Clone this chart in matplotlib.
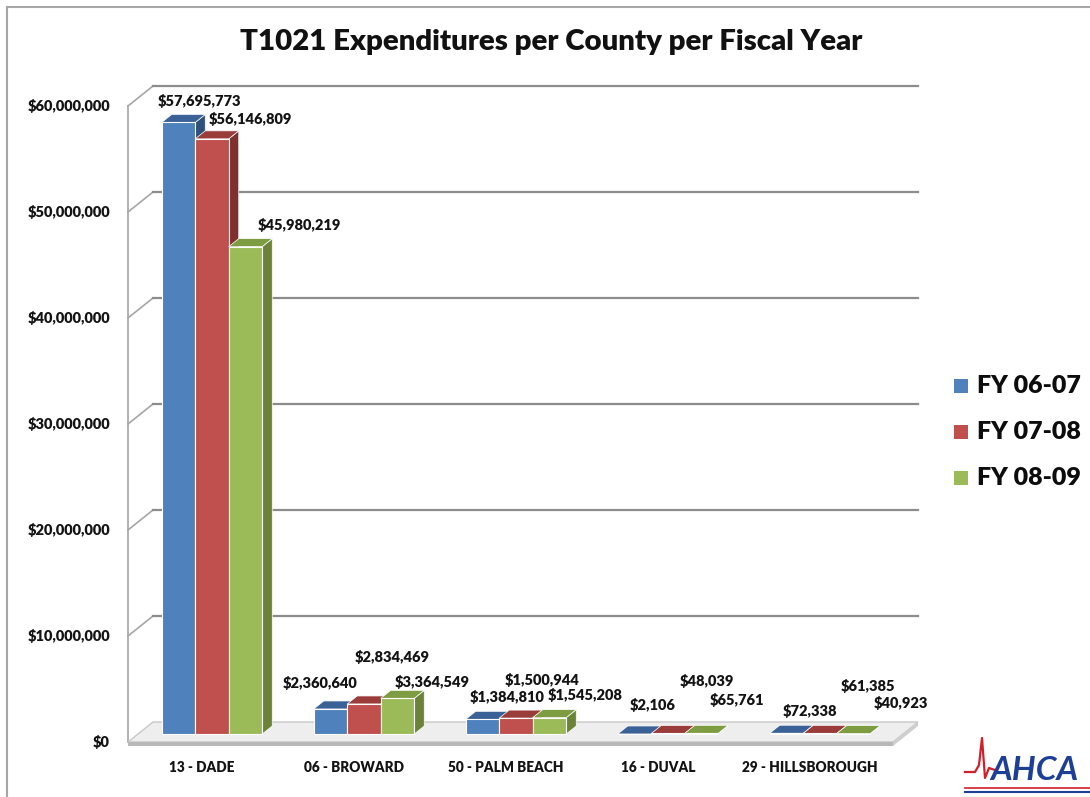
import matplotlib

matplotlib.use("Agg")
import matplotlib.pyplot as plt
from matplotlib.patches import Polygon, Rectangle
from matplotlib.lines import Line2D

plt.rcParams["font.family"] = ["Lato", "DejaVu Sans"]

counties = ["13 - DADE", "06 - BROWARD", "50 - PALM BEACH", "16 - DUVAL", "29 - HILLSBOROUGH"]
series_names = ["FY 06-07", "FY 07-08", "FY 08-09"]
fy0607 = [57695773, 2360640, 1384810, 2106, 72338]
fy0708 = [56146809, 2834469, 1500944, 48039, 61385]
fy0809 = [45980219, 3364549, 1545208, 65761, 40923]
yticks = [0, 10e6, 20e6, 30e6, 40e6, 50e6, 60e6]

front = ["#4F81BD", "#C0504D", "#9BBB59"]
side = ["#2F5079", "#7E302E", "#6A8337"]
top = ["#3A6296", "#9A3C39", "#7E9D43"]

# label offsets (pixels) from the top of each bar front face, as Excel placed them
label_dx = [[21, -10, 25, 18, 23], [38, 28, 26, 39, 48], [54, 35, 36, 35, 47]]
label_dy = [[21, 26, 22, 29, 22], [20, 47, 38, 52, 47], [22, 16, 23, 33, 31]]

W, H = 1090, 797
PX = 1 / 152.0          # category units per pixel
PY = 1e6 / 10.6         # dollars per pixel
TXT = "#141414"

fig = plt.figure(figsize=(W / 100, H / 100), dpi=100)
ax = fig.add_axes([0, 0, 1, 1])
ax.set_xlim(-202 * PX, (W - 202) * PX)
ax.set_ylim(-55 * PY, 742 * PY)
ax.axis("off")

# outer frame
fig.add_artist(Line2D([7 / W, 7 / W], [0, 1 - 7 / H], color="#a6a6a6", lw=1.5))
fig.add_artist(Line2D([7 / W, 1], [1 - 7 / H, 1 - 7 / H], color="#a6a6a6", lw=1.5))

x0, x1 = -74 * PX, 691 * PX
wdx, wdy = 25 * PX, 20 * PY

# walls and gridlines
ax.plot([x0, x0], [0, yticks[-1]], color="#a6a6a6", lw=1.2, zorder=1)
for v in yticks[1:]:
    ax.plot([x0, x0 + wdx], [v, v + wdy], color="#a6a6a6", lw=1.2, zorder=1)
    ax.plot([x0 + wdx, x1 + wdx], [v + wdy, v + wdy], color="#8c8c8c", lw=1.6, zorder=1)
    ax.text(x0 - 18 * PX, v, f"${v:,.0f}", ha="right", va="center",
            fontsize=10.5, fontweight="heavy", color=TXT)
ax.text(x0 - 18 * PX, 0, "$0", ha="right", va="center",
        fontsize=10.5, fontweight="heavy", color=TXT)

# floor slab
ax.add_patch(Polygon([(x0, 0), (x1, 0), (x1 + wdx, wdy), (x0 + wdx, wdy)],
                     closed=True, facecolor="#eeeeee", edgecolor="#c8c8c8", lw=1, zorder=1.5))
ax.add_patch(Polygon([(x0, 0), (x1, 0), (x1, -4 * PY), (x0, -4 * PY)],
                     closed=True, facecolor="#b8b8b8", edgecolor="none", zorder=1.5))
ax.add_patch(Polygon([(x1, 0), (x1 + wdx, wdy), (x1 + wdx, wdy - 4 * PY), (x1, -4 * PY)],
                     closed=True, facecolor="#cfcfcf", edgecolor="none", zorder=1.5))

# bars
bw = 33.5 * PX
boff_x, boff_y = 10 * PX, 8 * PY
sdx, sdy = 10 * PX, 8 * PY
for j, vals in enumerate([fy0607, fy0708, fy0809]):
    xs = [i + boff_x + (j - 1) * bw for i in range(len(counties))]
    ax.bar(xs, vals, width=bw, bottom=boff_y, color=front[j], edgecolor="white",
           lw=0.8, zorder=3 + j)
    for i, (xc, v) in enumerate(zip(xs, vals)):
        xl, xr = xc - bw / 2, xc + bw / 2
        yt = boff_y + v
        ax.add_patch(Polygon([(xr, boff_y), (xr + sdx, boff_y + sdy), (xr + sdx, yt + sdy), (xr, yt)],
                             closed=True, facecolor=side[j], edgecolor="white", lw=0.5,
                             zorder=2.5 + j))
        ax.add_patch(Polygon([(xl, yt), (xr, yt), (xr + sdx, yt + sdy), (xl + sdx, yt + sdy)],
                             closed=True, facecolor=top[j], edgecolor="white", lw=0.5,
                             zorder=2.5 + j))
        ax.annotate(f"${v:,.0f}", (xc, yt), xytext=(label_dx[j][i], label_dy[j][i]),
                    textcoords="offset pixels", ha="center", va="center",
                    fontsize=10.5, fontweight="heavy", color=TXT, zorder=10)

for i, name in enumerate(counties):
    ax.text(i, -26 * PY, name, ha="center", va="center", fontsize=9.8,
            fontweight="heavy", color=TXT)

fig.text(551 / W, 1 - 42 / H, "T1021 Expenditures per County per Fiscal Year",
         ha="center", va="center", fontsize=21.2, fontweight="heavy", color="#111111")

# legend
for j, name in enumerate(series_names):
    yc = 386 + 46 * j
    fig.add_artist(Rectangle((954 / W, 1 - (yc + 7) / H), 14 / W, 14 / H,
                             facecolor=front[j], edgecolor="none"))
    fig.text(977 / W, 1 - yc / H, name, ha="left", va="center", fontsize=18,
             fontweight="heavy", color="#0d0d0d")

# logo
fig.add_artist(Line2D(
    [965 / W, 975 / W, 979 / W, 982 / W, 985 / W, 989 / W, 995 / W],
    [1 - 772 / H, 1 - 772 / H, 1 - 765 / H, 1 - 738 / H, 1 - 778 / H, 1 - 768 / H, 1 - 770 / H],
    color="#d0202a", lw=1.6))
fig.text(990 / W, 1 - 770 / H, "AHCA", ha="left", va="center", fontsize=24,
         fontweight="bold", fontstyle="italic", color="#1d3f95")
fig.add_artist(Line2D([965 / W, 1], [1 - 788 / H, 1 - 788 / H], color="#d0202a", lw=1.2))
fig.add_artist(Line2D([965 / W, 1], [1 - 792 / H, 1 - 792 / H], color="#1d3f95", lw=1.5))

fig.savefig("out.png", dpi=100)
